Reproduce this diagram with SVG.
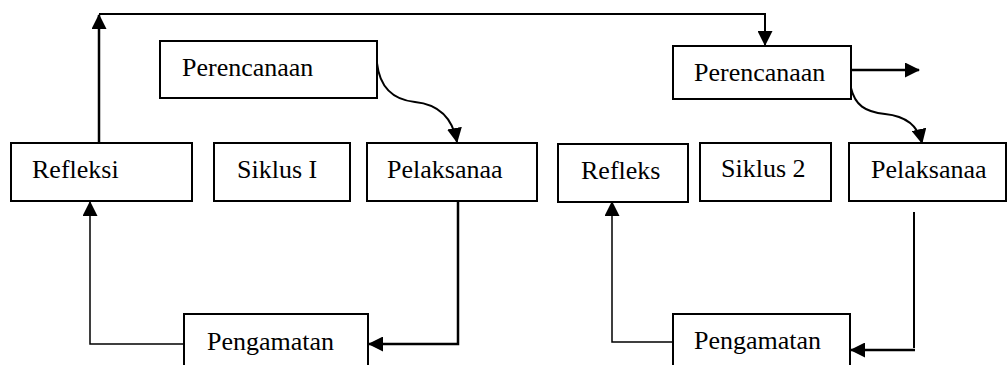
<svg xmlns="http://www.w3.org/2000/svg" width="1008" height="365" viewBox="0 0 1008 365">
<style>
.box{fill:#fff;stroke:#000;stroke-width:2}
.t{font-family:'Liberation Serif','DejaVu Serif',serif;font-size:26px;fill:#000}
.c{fill:none;stroke:#000;stroke-width:2}
.thin{fill:none;stroke:#000;stroke-width:1.5}
.thick{fill:none;stroke:#000;stroke-width:2.5}
</style>
<defs>
<marker id="ah" viewBox="0 0 15 15" refX="14" refY="7.5" markerWidth="15" markerHeight="15" markerUnits="userSpaceOnUse" orient="auto">
<path d="M0,0 L15,7.5 L0,15 z" fill="#000"/>
</marker>
</defs>
<rect width="1008" height="365" fill="#fff"/>
<g id="connectors">
<path class="thick" d="M99,143 V15" marker-end="url(#ah)"/>
<path class="c" d="M99,14 H765 V45" marker-end="url(#ah)"/>
<path class="c" d="M377,63 C380,90 395,100 415,102 C435,104 452,115 457,142" marker-end="url(#ah)"/>
<path class="thick" d="M851,70 H919" marker-end="url(#ah)"/>
<path class="c" d="M851,88 C855,105 865,112 885,114 C905,116 918,125 922,143" marker-end="url(#ah)"/>
<path class="thick" d="M458,201 V344 H369" marker-end="url(#ah)"/>
<path class="thin" d="M184,344 H90 V202" marker-end="url(#ah)"/>
<path class="thin" d="M673,342 H612 V202" marker-end="url(#ah)"/>
<path class="c" d="M914,212 V348"/>
<path class="thick" d="M915,350 H851" marker-end="url(#ah)"/>
</g>
<g id="perencanaan1"><rect class="box" x="160" y="41" width="217" height="57"/><text class="t" x="182" y="76">Perencanaan</text></g>
<g id="refleksi"><rect class="box" x="11" y="143" width="181" height="58"/><text class="t" x="32" y="178">Refleksi</text></g>
<g id="siklus1"><rect class="box" x="214" y="143" width="136" height="58"/><text class="t" x="237" y="178">Siklus I</text></g>
<g id="pelaksanaa1"><rect class="box" x="367" y="143" width="170" height="58"/><text class="t" x="387" y="178">Pelaksanaa</text></g>
<g id="pengamatan1"><rect class="box" x="184" y="314" width="184" height="60"/><text class="t" x="207" y="350">Pengamatan</text></g>
<g id="perencanaan2"><rect class="box" x="673" y="46" width="178" height="53"/><text class="t" x="694" y="81">Perencanaan</text></g>
<g id="refleks"><rect class="box" x="558" y="144" width="130" height="58"/><text class="t" x="581" y="179">Refleks</text></g>
<g id="siklus2"><rect class="box" x="700" y="143" width="131" height="58"/><text class="t" x="721" y="177">Siklus 2</text></g>
<g id="pelaksanaa2"><rect class="box" x="849" y="143" width="157" height="58"/><text class="t" x="871" y="178">Pelaksanaa</text></g>
<g id="pengamatan2"><rect class="box" x="673" y="314" width="177" height="60"/><text class="t" x="694" y="349">Pengamatan</text></g>
</svg>
